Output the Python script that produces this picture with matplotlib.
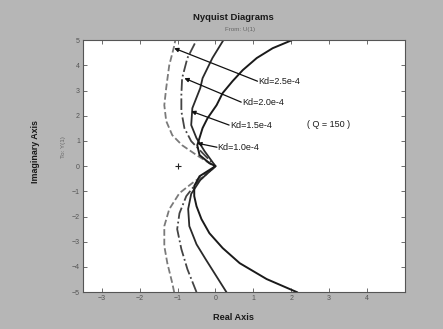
import matplotlib
matplotlib.use("Agg")
import matplotlib.pyplot as plt
import numpy as np

plt.rcParams['font.family'] = ['Liberation Sans', 'DejaVu Sans']

# Nyquist curves: (real, imag), cusp -> outward
kd_labels = ["Kd=2.5e-4", "Kd=2.0e-4", "Kd=1.5e-4", "Kd=1.0e-4"]

upper_a = [(0, 0), (-0.08, 0.04), (-0.50, 0.44), (-0.88, 0.83), (-1.14, 1.23), (-1.30, 1.79),
           (-1.35, 2.42), (-1.30, 3.1), (-1.22, 4.0), (-1.09, 4.76), (-1.06, 5.0)]
lower_a = [(0, 0), (-0.08, -0.12), (-0.61, -0.67), (-0.95, -1.07), (-1.22, -1.71), (-1.35, -2.38),
           (-1.35, -3.17), (-1.27, -3.85), (-1.14, -4.64), (-1.09, -5.0)]

upper_b = [(0, 0), (-0.34, 0.52), (-0.64, 0.99), (-0.82, 1.51), (-0.90, 2.18), (-0.90, 2.82),
           (-0.88, 3.49), (-0.74, 4.29), (-0.50, 5.0)]
lower_b = [(0, 0), (-0.50, -0.67), (-0.77, -1.19), (-0.95, -1.87), (-1.01, -2.5), (-0.90, -3.29),
           (-0.74, -4.09), (-0.50, -5.0)]

upper_c = [(0, 0), (-0.29, 0.6), (-0.50, 1.11), (-0.64, 1.63), (-0.61, 2.3), (-0.40, 3.1),
           (-0.34, 3.49), (-0.08, 4.29), (0.21, 5.0)]
lower_c = [(0, 0), (-0.40, -0.55), (-0.64, -1.1), (-0.72, -1.7), (-0.69, -2.38), (-0.50, -3.1),
           (-0.26, -3.69), (0.29, -5.0)]

upper_d = [(0, 0), (-0.16, 0.12), (-0.42, 0.44), (-0.48, 0.83), (-0.34, 1.51), (-0.21, 1.9),
           (0.03, 2.42), (0.19, 2.9), (0.45, 3.37), (0.72, 3.81), (1.09, 4.29), (1.51, 4.68), (2.02, 5.0)]
lower_d = [(0, 0), (-0.42, -0.40), (-0.56, -0.79), (-0.56, -1.19), (-0.50, -1.59), (-0.37, -2.1),
           (-0.16, -2.66), (0.19, -3.25), (0.64, -3.85), (1.35, -4.48), (2.15, -5.0)]

curves = [(upper_a, lower_a), (upper_b, lower_b), (upper_c, lower_c), (upper_d, lower_d)]
styles = [dict(color='#7a7a7a', ls='--', lw=1.3),
          dict(color='#444444', ls='-.', lw=1.3),
          dict(color='#2a2a2a', ls='-', lw=1.3),
          dict(color='#1a1a1a', ls='-', lw=1.4)]

# label position and arrow tip for each Kd
label_xy = [(1.13, 3.37), (0.70, 2.54), (0.38, 1.63), (0.06, 0.75)]
tip_xy = [(-1.09, 4.68), (-0.82, 3.49), (-0.64, 2.18), (-0.48, 0.91)]

fig = plt.figure(figsize=(4.43, 3.29), dpi=100, facecolor='#b6b6b6')
ax = fig.add_axes([0.187, 0.112, 0.727, 0.766])
ax.set_facecolor('white')

for (up, lo), st in zip(curves, styles):
    pts = np.array(lo[::-1] + up[1:])
    ax.plot(pts[:, 0], pts[:, 1], **st)

ax.plot([-1], [0], marker='+', color='#222222', ms=5, mew=0.8)

for lab, (lx, ly), (tx, ty) in zip(kd_labels, label_xy, tip_xy):
    ax.annotate("", xy=(tx, ty), xytext=(lx - 0.02, ly),
                arrowprops=dict(arrowstyle='-|>', color='#111111', lw=0.9, mutation_scale=6,
                                shrinkA=0, shrinkB=0))
    ax.text(lx, ly, lab, fontsize=6.5, va='center', ha='left', color='#1a1a1a')

ax.text(2.42, 1.67, "( Q = 150 )", fontsize=6.5, va='center', ha='left', color='#1a1a1a')

ax.set_xlim(-3.5, 5)
ax.set_ylim(-5, 5)
ax.set_xticks(np.arange(-3, 5))
ax.set_yticks(np.arange(-5, 6))
ax.tick_params(direction='in', length=3, width=0.6, labelsize=5, colors='#555555',
               top=True, right=True, pad=2)
for s in ax.spines.values():
    s.set_color('#555555')
    s.set_linewidth(0.8)

fig.text(233 / 443, 1 - 18 / 329, "Nyquist Diagrams", fontsize=6.8, fontweight='bold',
         ha='center', va='center', color='#1a1a1a')
fig.text(240 / 443, 1 - 29 / 329, "From: U(1)", fontsize=4.5, ha='center', va='center', color='#666666')
fig.text(233 / 443, 1 - 318 / 329, "Real Axis", fontsize=6.6, fontweight='bold',
         ha='center', va='center', color='#1a1a1a')
fig.text(35 / 443, 1 - 152 / 329, "Imaginary Axis", fontsize=6.4, fontweight='bold', rotation=90,
         ha='center', va='center', color='#1a1a1a')
fig.text(63 / 443, 1 - 147 / 329, "To: Y(1)", fontsize=4.5, rotation=90,
         ha='center', va='center', color='#666666')

fig.savefig("out.png", dpi=100, facecolor=fig.get_facecolor())
